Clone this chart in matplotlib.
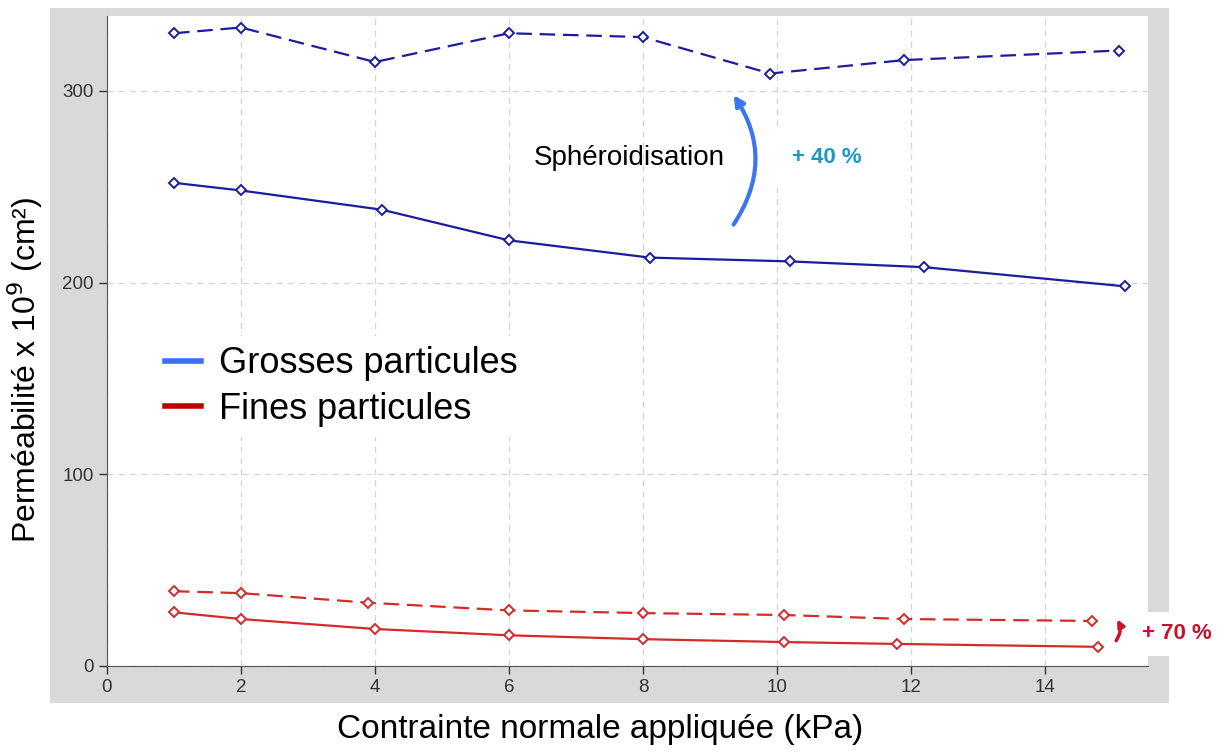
import matplotlib.pyplot as plt
from matplotlib.patches import Rectangle

plt.rcParams['font.family'] = ['Liberation Sans', 'DejaVu Sans']

# Contrainte normale (kPa) et permeabilite x 1e9 (cm2)
x_grosses = [1.0, 2.0, 4.1, 6.0, 8.1, 10.2, 12.2, 15.2]
grosses = [252, 248, 238, 222, 213, 211, 208, 198]
x_grosses_sph = [1.0, 2.0, 4.0, 6.0, 8.0, 9.9, 11.9, 15.1]
grosses_sph = [330, 333, 315, 330, 328, 309, 316, 321]

x_fines = [1.0, 2.0, 4.0, 6.0, 8.0, 10.1, 11.8, 14.8]
fines = [28, 24.5, 19.3, 16, 14, 12.5, 11.5, 10]
x_fines_sph = [1.0, 2.0, 3.9, 6.0, 8.0, 10.1, 11.9, 14.7]
fines_sph = [39, 38, 33, 29, 27.6, 26.6, 24.5, 23.5]

x_ticks = [0, 2, 4, 6, 8, 10, 12, 14]
y_ticks = [0, 100, 200, 300]

blue = '#1c1c9c'
red = '#d42a2a'

fig = plt.figure(figsize=(12.24, 7.53), dpi=100)
fig.patches.append(Rectangle((50 / 1224, 50 / 753), 1119 / 1224, 695 / 753,
                             transform=fig.transFigure, facecolor='#d9d9d9',
                             edgecolor='none', zorder=-10))
ax = fig.add_axes([107 / 1224, 87 / 753, 1041 / 1224, 650 / 753])
ax.set_facecolor('white')

style = dict(lw=1.6, marker='D', markersize=5, markerfacecolor='white', markeredgewidth=1.4)
ax.plot(x_grosses_sph, grosses_sph, color=blue, dashes=(7, 3.5), **style)
ax.plot(x_grosses, grosses, color=blue, **style)
ax.plot(x_fines_sph, fines_sph, color=red, dashes=(7, 3.5), **style)
ax.plot(x_fines, fines, color=red, **style)

ax.set_xlim(0, 15.54)
ax.set_ylim(0, 339)
ax.set_xticks(x_ticks)
ax.set_yticks(y_ticks)
ax.tick_params(labelsize=13.5, colors='#333333', length=6, width=1)
ax.grid(True, color='#d4d4d4', linestyle=(0, (5, 4)), linewidth=0.9)
ax.set_axisbelow(True)
for side in ['top', 'right']:
    ax.spines[side].set_visible(False)
for side in ['left', 'bottom']:
    ax.spines[side].set_color('#555555')

ax.set_xlabel('Contrainte normale appliquée (kPa)', fontsize=24, va='center')
ax.xaxis.set_label_coords(0.4736, -0.098)
ax.set_ylabel('Perméabilité x 10$^9$ (cm²)', fontsize=23, va='center')
ax.yaxis.set_label_coords(-0.079, 0.455)

# legende
h1, = ax.plot([], [], color='#3a6ff5', lw=4)
h2, = ax.plot([], [], color='#c00000', lw=4)
leg = ax.legend([h1, h2], ['Grosses particules', 'Fines particules'],
                loc='center left', bbox_to_anchor=(0.045, 0.43), fontsize=26,
                frameon=True, facecolor='white', edgecolor='none', framealpha=1,
                handlelength=1.0, handletextpad=0.5, labelspacing=0.28,
                borderpad=0.3, borderaxespad=0)

# annotations
ax.text(9.22, 265, 'Sphéroidisation', fontsize=20, ha='right', va='center')
ax.annotate('', xy=(9.33, 299), xytext=(9.33, 229),
            arrowprops=dict(arrowstyle='-|>,head_length=0.6,head_width=0.3',
                            color='#3d75f0', lw=3,
                            connectionstyle='arc3,rad=0.34'))
ax.text(10.75, 265, '+ 40 %', fontsize=16, fontweight='bold', color='#1b98c4',
        ha='center', va='center',
        bbox=dict(facecolor='white', edgecolor='none', pad=14))

ax.text(15.97, 16.7, '+ 70 %', fontsize=16, fontweight='bold', color='#c8102e',
        ha='center', va='center', clip_on=False,
        bbox=dict(facecolor='white', edgecolor='none', pad=8))
ax.annotate('', xy=(15.06, 25.6), xytext=(15.04, 12),
            arrowprops=dict(arrowstyle='-|>,head_length=0.4,head_width=0.2',
                            color='#d0102e', lw=2.5,
                            connectionstyle='arc3,rad=0.35'),
            zorder=6)

fig.savefig('out.png', dpi=100)
